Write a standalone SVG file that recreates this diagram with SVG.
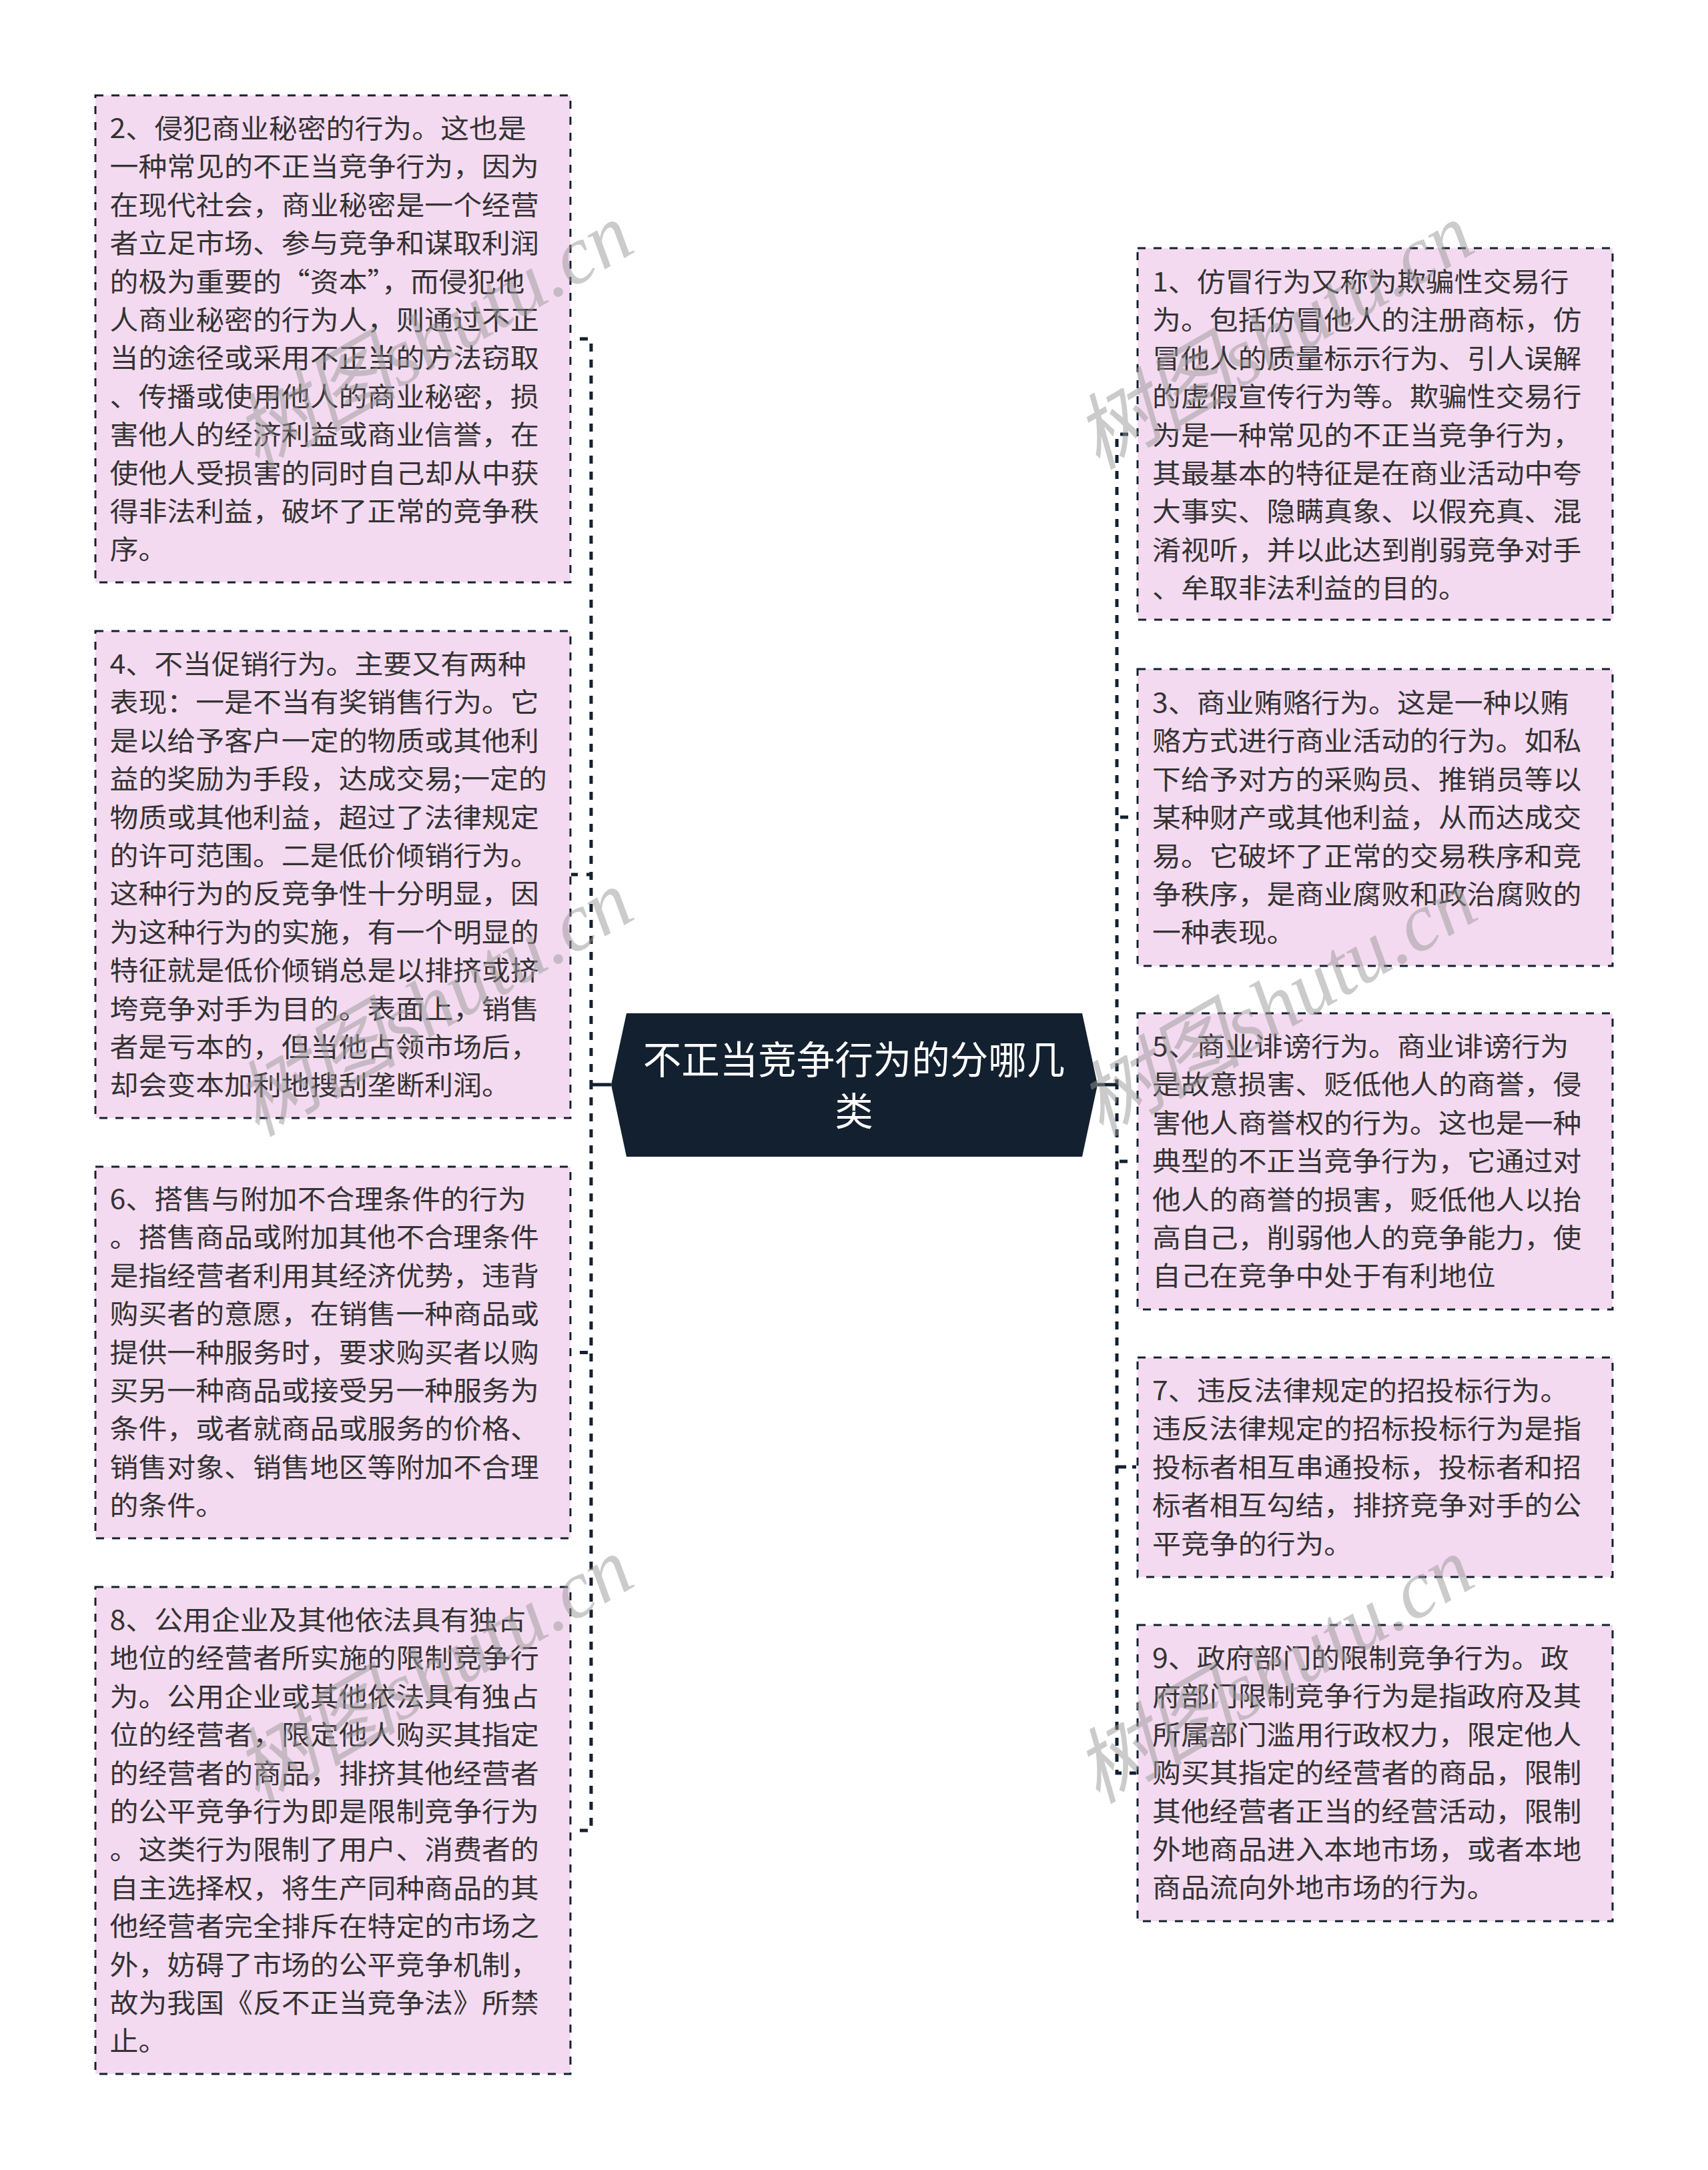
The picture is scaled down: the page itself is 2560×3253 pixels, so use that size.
<svg xmlns="http://www.w3.org/2000/svg" width="2560" height="3253" viewBox="0 0 2560 3253">
<style>
text{font-family:"Noto Sans CJK SC","Noto Sans",sans-serif}
.box{fill:#f4daf0;stroke:#13202f;stroke-width:3;stroke-dasharray:12 12}
.body{font-size:40px;fill:#333}
.title{font-size:57.5px;fill:#fff;text-anchor:middle}
.dash{fill:none;stroke:#13202f;stroke-width:5;stroke-dasharray:12 12}
.solid{fill:none;stroke:#13202f;stroke-width:5}
.wm{font-family:"Liberation Serif","Noto Sans CJK SC",serif;font-style:italic;font-size:123px;fill:#999;opacity:.5}
</style>
<rect width="2560" height="3253" fill="#fff"/>
<g id="connectors">
<path class="dash" stroke-dashoffset="12" d="M857,508H886V1626"/>
<path class="dash" stroke-dashoffset="12" d="M857,2744H886V1626"/>
<path class="solid" d="M886,1626H916M1645,1626H1674"/>
<path class="dash" style="stroke-dasharray:none" d="M856,1311H866M879,1311H886M869,2027.5H881"/>
<path class="dash" stroke-dashoffset="12" d="M1703,651H1674V1626"/>
<path class="dash" stroke-dashoffset="2" d="M1703,2658H1674V1626"/>
<path class="dash" style="stroke-dasharray:none" d="M1679,1225H1691M1678,1741H1690M1674,2199H1688M1697,2199H1703"/>
</g>
<g id="root">
<polygon points="939,1519 1622,1519 1645,1626 1622,1734 939,1734 916,1626" fill="#13202f"/>
<text class="title"><tspan x="1280" y="1610">不正当竞争行为的分哪几</tspan><tspan x="1280" y="1687">类</tspan></text>
</g>
<g id="n2">
<rect class="box" x="143" y="143" width="712" height="730"/>
<text class="body" transform="translate(164.5 207) scale(1.0725 1)"><tspan x="0" y="0">2、侵犯商业秘密的行为。这也是</tspan><tspan x="0" dy="57.4">一种常见的不正当竞争行为，因为</tspan><tspan x="0" dy="57.4">在现代社会，商业秘密是一个经营</tspan><tspan x="0" dy="57.4">者立足市场、参与竞争和谋取利润</tspan><tspan x="0" dy="57.4">的极为重要的“资本”，而侵犯他</tspan><tspan x="0" dy="57.4">人商业秘密的行为人，则通过不正</tspan><tspan x="0" dy="57.4">当的途径或采用不正当的方法窃取</tspan><tspan x="0" dy="57.4">、传播或使用他人的商业秘密，损</tspan><tspan x="0" dy="57.4">害他人的经济利益或商业信誉，在</tspan><tspan x="0" dy="57.4">使他人受损害的同时自己却从中获</tspan><tspan x="0" dy="57.4">得非法利益，破坏了正常的竞争秩</tspan><tspan x="0" dy="57.4">序。</tspan></text>
</g>
<g id="n4">
<rect class="box" x="143" y="946" width="712" height="730"/>
<text class="body" transform="translate(164.5 1010) scale(1.0725 1)"><tspan x="0" y="0">4、不当促销行为。主要又有两种</tspan><tspan x="0" dy="57.4">表现：一是不当有奖销售行为。它</tspan><tspan x="0" dy="57.4">是以给予客户一定的物质或其他利</tspan><tspan x="0" dy="57.4">益的奖励为手段，达成交易;一定的</tspan><tspan x="0" dy="57.4">物质或其他利益，超过了法律规定</tspan><tspan x="0" dy="57.4">的许可范围。二是低价倾销行为。</tspan><tspan x="0" dy="57.4">这种行为的反竞争性十分明显，因</tspan><tspan x="0" dy="57.4">为这种行为的实施，有一个明显的</tspan><tspan x="0" dy="57.4">特征就是低价倾销总是以排挤或挤</tspan><tspan x="0" dy="57.4">垮竞争对手为目的。表面上，销售</tspan><tspan x="0" dy="57.4">者是亏本的，但当他占领市场后，</tspan><tspan x="0" dy="57.4">却会变本加利地搜刮垄断利润。</tspan></text>
</g>
<g id="n6">
<rect class="box" x="143" y="1749" width="712" height="557"/>
<text class="body" transform="translate(164.5 1812) scale(1.0725 1)"><tspan x="0" y="0">6、搭售与附加不合理条件的行为</tspan><tspan x="0" dy="57.4">。搭售商品或附加其他不合理条件</tspan><tspan x="0" dy="57.4">是指经营者利用其经济优势，违背</tspan><tspan x="0" dy="57.4">购买者的意愿，在销售一种商品或</tspan><tspan x="0" dy="57.4">提供一种服务时，要求购买者以购</tspan><tspan x="0" dy="57.4">买另一种商品或接受另一种服务为</tspan><tspan x="0" dy="57.4">条件，或者就商品或服务的价格、</tspan><tspan x="0" dy="57.4">销售对象、销售地区等附加不合理</tspan><tspan x="0" dy="57.4">的条件。</tspan></text>
</g>
<g id="n8">
<rect class="box" x="143" y="2379" width="712" height="730"/>
<text class="body" transform="translate(164.5 2443) scale(1.0725 1)"><tspan x="0" y="0">8、公用企业及其他依法具有独占</tspan><tspan x="0" dy="57.4">地位的经营者所实施的限制竞争行</tspan><tspan x="0" dy="57.4">为。公用企业或其他依法具有独占</tspan><tspan x="0" dy="57.4">位的经营者，限定他人购买其指定</tspan><tspan x="0" dy="57.4">的经营者的商品，排挤其他经营者</tspan><tspan x="0" dy="57.4">的公平竞争行为即是限制竞争行为</tspan><tspan x="0" dy="57.4">。这类行为限制了用户、消费者的</tspan><tspan x="0" dy="57.4">自主选择权，将生产同种商品的其</tspan><tspan x="0" dy="57.4">他经营者完全排斥在特定的市场之</tspan><tspan x="0" dy="57.4">外，妨碍了市场的公平竞争机制，</tspan><tspan x="0" dy="57.4">故为我国《反不正当竞争法》所禁</tspan><tspan x="0" dy="57.4">止。</tspan></text>
</g>
<g id="n1">
<rect class="box" x="1705" y="372" width="712" height="557"/>
<text class="body" transform="translate(1727 437) scale(1.0725 1)"><tspan x="0" y="0">1、仿冒行为又称为欺骗性交易行</tspan><tspan x="0" dy="57.4">为。包括仿冒他人的注册商标，仿</tspan><tspan x="0" dy="57.4">冒他人的质量标示行为、引人误解</tspan><tspan x="0" dy="57.4">的虚假宣传行为等。欺骗性交易行</tspan><tspan x="0" dy="57.4">为是一种常见的不正当竞争行为，</tspan><tspan x="0" dy="57.4">其最基本的特征是在商业活动中夸</tspan><tspan x="0" dy="57.4">大事实、隐瞒真象、以假充真、混</tspan><tspan x="0" dy="57.4">淆视听，并以此达到削弱竞争对手</tspan><tspan x="0" dy="57.4">、牟取非法利益的目的。</tspan></text>
</g>
<g id="n3">
<rect class="box" x="1705" y="1003" width="712" height="445"/>
<text class="body" transform="translate(1727 1068) scale(1.0725 1)"><tspan x="0" y="0">3、商业贿赂行为。这是一种以贿</tspan><tspan x="0" dy="57.4">赂方式进行商业活动的行为。如私</tspan><tspan x="0" dy="57.4">下给予对方的采购员、推销员等以</tspan><tspan x="0" dy="57.4">某种财产或其他利益，从而达成交</tspan><tspan x="0" dy="57.4">易。它破坏了正常的交易秩序和竞</tspan><tspan x="0" dy="57.4">争秩序，是商业腐败和政治腐败的</tspan><tspan x="0" dy="57.4">一种表现。</tspan></text>
</g>
<g id="n5">
<rect class="box" x="1705" y="1519" width="712" height="444"/>
<text class="body" transform="translate(1727 1583) scale(1.0725 1)"><tspan x="0" y="0">5、商业诽谤行为。商业诽谤行为</tspan><tspan x="0" dy="57.4">是故意损害、贬低他人的商誉，侵</tspan><tspan x="0" dy="57.4">害他人商誉权的行为。这也是一种</tspan><tspan x="0" dy="57.4">典型的不正当竞争行为，它通过对</tspan><tspan x="0" dy="57.4">他人的商誉的损害，贬低他人以抬</tspan><tspan x="0" dy="57.4">高自己，削弱他人的竞争能力，使</tspan><tspan x="0" dy="57.4">自己在竞争中处于有利地位</tspan></text>
</g>
<g id="n7">
<rect class="box" x="1705" y="2035" width="712" height="329"/>
<text class="body" transform="translate(1727 2099) scale(1.0725 1)"><tspan x="0" y="0">7、违反法律规定的招投标行为。</tspan><tspan x="0" dy="57.4">违反法律规定的招标投标行为是指</tspan><tspan x="0" dy="57.4">投标者相互串通投标，投标者和招</tspan><tspan x="0" dy="57.4">标者相互勾结，排挤竞争对手的公</tspan><tspan x="0" dy="57.4">平竞争的行为。</tspan></text>
</g>
<g id="n9">
<rect class="box" x="1705" y="2436" width="712" height="444"/>
<text class="body" transform="translate(1727 2500) scale(1.0725 1)"><tspan x="0" y="0">9、政府部门的限制竞争行为。政</tspan><tspan x="0" dy="57.4">府部门限制竞争行为是指政府及其</tspan><tspan x="0" dy="57.4">所属部门滥用行政权力，限定他人</tspan><tspan x="0" dy="57.4">购买其指定的经营者的商品，限制</tspan><tspan x="0" dy="57.4">其他经营者正当的经营活动，限制</tspan><tspan x="0" dy="57.4">外地商品进入本地市场，或者本地</tspan><tspan x="0" dy="57.4">商品流向外地市场的行为。</tspan></text>
</g>
<g id="watermarks">
<text class="wm" transform="translate(385 705) rotate(-30)">树图shutu.cn</text>
<text class="wm" transform="translate(1645 705) rotate(-30)">树图shutu.cn</text>
<text class="wm" transform="translate(385 1705) rotate(-30)">树图shutu.cn</text>
<text class="wm" transform="translate(1650 1705) rotate(-30)">树图shutu.cn</text>
<text class="wm" transform="translate(385 2705) rotate(-30)">树图shutu.cn</text>
<text class="wm" transform="translate(1645 2705) rotate(-30)">树图shutu.cn</text>
</g>
</svg>
